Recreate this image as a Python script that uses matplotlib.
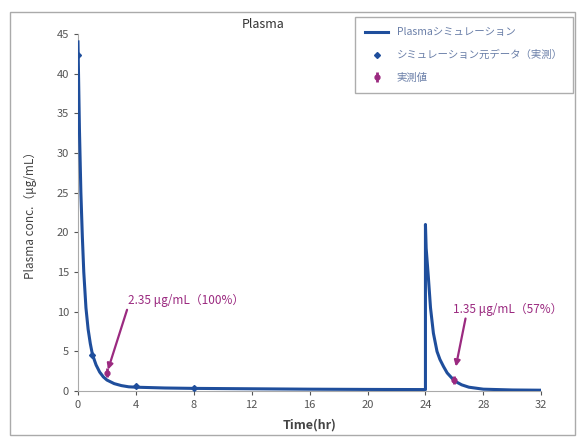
import matplotlib
matplotlib.use("Agg")
import matplotlib.pyplot as plt
from matplotlib.patches import Rectangle

plt.rcParams['font.family'] = ['Noto Sans CJK JP', 'DejaVu Sans']

# simulation curve, first dose
sim_t1 = [0, 0.1, 0.2, 0.3, 0.4, 0.55, 0.7, 0.85, 1.0, 1.25, 1.5, 1.75, 2.0, 2.5,
          3, 3.5, 4, 5, 6, 8, 12, 16, 20, 24]
sim_c1 = [44, 33, 25, 19.5, 15, 10.5, 7.8, 6, 4.6, 3.3, 2.4, 1.8, 1.4, 0.95,
          0.7, 0.55, 0.5, 0.45, 0.4, 0.35, 0.3, 0.25, 0.22, 0.2]
# simulation curve, second dose
sim_t2 = [24, 24, 24.05, 24.2, 24.35, 24.55, 24.8, 25, 25.25, 25.5, 26, 26.5, 27, 28, 30, 32]
sim_c2 = [0.2, 21, 18, 14.4, 10.5, 7.3, 5, 4, 3.1, 2.3, 1.3, 0.8, 0.5, 0.25, 0.15, 0.12]

# source data for simulation (measured)
src_t = [0, 1, 4, 8]
src_c = [42.3, 4.6, 0.7, 0.4]

# measured values
meas_t = [2, 26]
meas_c = [2.35, 1.35]
meas_err = [0.6, 0.5]

labels = ["Plasmaシミュレーション", "シミュレーション元データ（実測）", "実測値"]
notes = ["2.35 μg/mL（100%）", "1.35 μg/mL（57%）"]

blue = "#1f4e9c"
purple = "#9b2a80"

fig = plt.figure(figsize=(5.82, 4.41), dpi=100)
ax = fig.add_axes([0.134, 0.113, 0.796, 0.81])

ax.plot(sim_t1 + sim_t2, sim_c1 + sim_c2, color=blue, lw=2.2, label=labels[0], zorder=3)
ax.plot(src_t, src_c, 'D', color=blue, ms=3, label=labels[1], zorder=4)
ax.errorbar(meas_t, meas_c, yerr=meas_err, fmt='o', color=purple, ms=3.5,
            elinewidth=2, capsize=0, label=labels[2], zorder=5)

ax.annotate(notes[0], xy=(2.07, 2.7), xytext=(3.45, 10.6), color=purple, fontsize=8.5,
            ha='left', va='bottom',
            arrowprops=dict(arrowstyle='-|>', color=purple, lw=1.6, shrinkA=0, shrinkB=0,
                            relpos=(0, 0)))
ax.annotate(notes[1], xy=(26.1, 3.1), xytext=(25.9, 9.5), color=purple, fontsize=8.5,
            ha='left', va='bottom',
            arrowprops=dict(arrowstyle='-|>', color=purple, lw=1.6, shrinkA=0, shrinkB=0,
                            relpos=(0.12, 0)))

ax.set_xlim(0, 32)
ax.set_ylim(0, 45)
ax.set_xticks(range(0, 33, 4))
ax.set_yticks(range(0, 46, 5))
ax.tick_params(labelsize=8, colors='#555555', length=3)
for s in ['top', 'right']:
    ax.spines[s].set_visible(False)
for s in ['left', 'bottom']:
    ax.spines[s].set_color('#aaaaaa')

ax.set_xlabel("Time(hr)", fontsize=9, fontweight='bold', color='#444444', labelpad=6)
ax.set_ylabel("Plasma conc.（μg/mL）", fontsize=8.5, color='#444444', labelpad=14)
ax.set_title("Plasma", fontsize=9, color='#333333', pad=4, x=0.40)

leg = ax.legend(loc='upper right', bbox_to_anchor=(1.08, 1.062), fontsize=7.5,
                frameon=True, fancybox=False, edgecolor='#999999', handlelength=2.2,
                borderpad=1.0, labelspacing=1.2)
for t in leg.get_texts():
    t.set_color('#6a7fa8')

fig.patches.append(Rectangle((0.017, 0.014), 0.971, 0.958, transform=fig.transFigure,
                             fill=False, edgecolor='#aaaaaa', lw=1))

fig.savefig("out.png", dpi=100)
